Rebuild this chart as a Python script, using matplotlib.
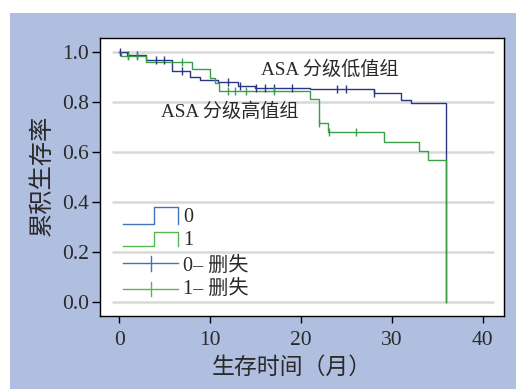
import numpy as np
import matplotlib
matplotlib.use("Agg")
import matplotlib.pyplot as plt
from matplotlib.patches import Rectangle

# ASA 分级低值组 (0): event times and survival after each step
t0 = [0, 0.8, 2.9, 5.8, 7.8, 8.9, 10.9, 13.1, 14.9, 21.0, 28.0, 31.0, 32.1, 36.0]
s0 = [1.0, 0.99, 0.97, 0.925, 0.90, 0.89, 0.88, 0.865, 0.857, 0.851, 0.835, 0.808, 0.795, 0.0]
c0 = [0.05, 1.0, 2.0, 4.0, 4.9, 6.9, 12.0, 13.3, 15.1, 16.0, 17.0, 19.0, 24.0, 25.0, 28.0]

# ASA 分级高值组 (1)
t1 = [0, 0.15, 2.9, 8.0, 10.0, 10.5, 11.0, 21.0, 22.0, 23.0, 29.1, 33.0, 34.0, 36.0]
s1 = [1.0, 0.985, 0.961, 0.932, 0.897, 0.875, 0.843, 0.811, 0.715, 0.68, 0.641, 0.605, 0.568, 0.0]
c1 = [1.0, 2.0, 6.9, 12.0, 12.7, 14.0, 17.0, 22.0, 23.1, 26.0]

yticks = [0.0, 0.2, 0.4, 0.6, 0.8, 1.0]
xticks = [0, 10, 20, 30, 40]
legend_labels = ["0", "1", "0– 删失", "1– 删失"]

blue = "#2b3784"
green = "#3a9f48"
leg_blue = "#4472b8"
leg_green = "#55b855"
txt = "#2a2a2a"
serif = ["Liberation Serif", "Noto Sans CJK SC"]


def surv_at(times, vals, ct):
    idx = np.searchsorted(times, ct, side="right") - 1
    return np.array(vals)[idx]


fig = plt.figure(figsize=(5.16, 3.89), dpi=100)
fig.patch.set_facecolor("white")
fig.patches.append(Rectangle((10 / 516, 0), 1, (389 - 13) / 389, transform=fig.transFigure,
                             facecolor="#b0bee0", edgecolor="none", zorder=-10))

ax = fig.add_axes([100 / 516, 1 - 316 / 389, 404 / 516, 278 / 389])
ax.set_facecolor("white")
ax.set_xlim(-2.12, 42.34)
ax.set_ylim(-0.056, 1.056)

ax.hlines(yticks, -0.8, 41.2, color="#d9d9d9", lw=1.8, zorder=0)

# curves + censor marks
ax.step(t0, s0, where="post", color=blue, lw=1.0, zorder=3)
ax.step(t1, s1, where="post", color=green, lw=1.0, zorder=4)
ax.plot(c0, surv_at(t0, s0, c0), ls="none", marker="|", ms=6, mew=1.0, color=blue, zorder=5)
ax.plot(c1, surv_at(t1, s1, c1), ls="none", marker="|", ms=6, mew=1.0, color=green, zorder=5)

ax.text(23.2, 0.928, "ASA 分级低值组", ha="center", va="center", fontsize=13.8, color=txt, family=serif)
ax.text(12.2, 0.76, "ASA 分级高值组", ha="center", va="center", fontsize=13.8, color=txt, family=serif)

# legend drawn by hand
tr = ax.transAxes
x0, x1, x2 = 0.057, 0.134, 0.193
for lo, hi, c in [(0.331, 0.391, leg_blue), (0.252, 0.301, leg_green)]:
    ax.plot([x0, x1, x1, x2, x2], [lo, lo, hi, hi, lo], color=c, lw=1.0, transform=tr)
for y, c in [(0.189, leg_blue), (0.097, leg_green)]:
    ax.plot([x0, x2], [y, y], color=c, lw=1.0, transform=tr)
    ax.plot([0.126, 0.126], [y - 0.026, y + 0.026], color=c, lw=1.0, transform=tr)
for y, lab in zip([0.353, 0.271, 0.177, 0.096], legend_labels):
    ax.text(0.205, y, lab, transform=tr, ha="left", va="center", fontsize=14.5, color=txt, family=serif)

ax.set_xticks(xticks)
ax.set_yticks(yticks)
ax.set_xticklabels([str(v) for v in xticks], family=serif, fontsize=15.5, color=txt)
ax.set_yticklabels([f"{v:.1f}" for v in yticks], family=serif, fontsize=15.5, color=txt)
ax.tick_params(axis="x", direction="out", length=5, width=1, pad=6, colors="black", labelcolor=txt)
ax.tick_params(axis="y", direction="out", length=6, width=1, pad=2, colors="black", labelcolor=txt)
for sp in ax.spines.values():
    sp.set_linewidth(1.0)
    sp.set_color("black")

fig.text(292 / 516, 1 - 368 / 389, "生存时间（月）", ha="center", va="center", fontsize=16.5,
         color=txt, family=serif)
fig.text(42 / 516, 1 - 175 / 389, "累积生存率", ha="center", va="center", rotation=90,
         fontsize=17.5, color=txt, family=serif)

fig.savefig("out.png", dpi=100, facecolor=fig.get_facecolor())
